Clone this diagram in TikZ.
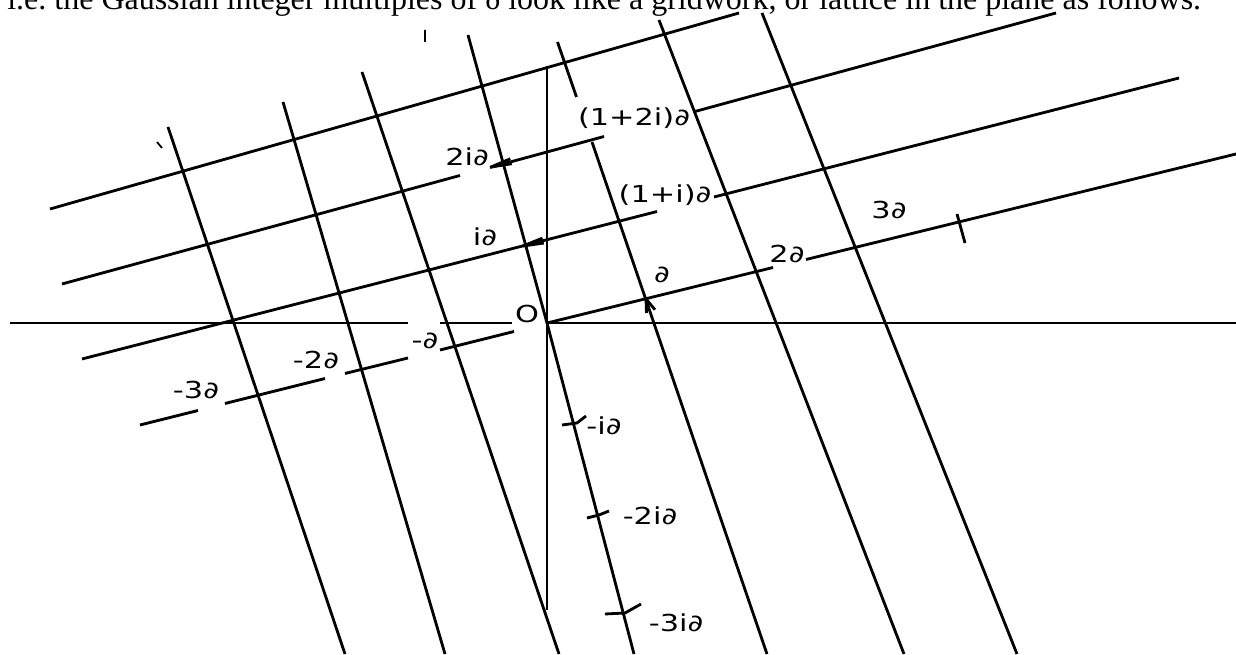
\documentclass[tikz,border=0pt]{standalone}
\usepackage{fontspec}
\setmainfont{Liberation Serif}
\newfontfamily\labfont[FakeStretch=1.3]{DejaVu Sans}
\usepackage{tikz}
\usetikzlibrary{calc}

\begin{document}
\begin{tikzpicture}[
  lattice/.style={line width=1.6pt},
  axis/.style={line width=1.3pt},
  lab/.style={font=\labfont\fontsize{13.3}{15}\selectfont, inner sep=0pt}
]
\useasboundingbox (-10.94,-6.62) rectangle (13.78,6.46);
\coordinate (O) at (0,0);
% text line above the figure, cut off by the page
\node[anchor=base west, inner sep=0pt, font=\fontsize{18.2}{20}\selectfont] (caption)
  at (-10.80,6.26) {i.e.\ the Gaussian integer multiples of δ look like a gridwork, or lattice in the plane as follows.};
% axes
\draw[axis]
(-10.74,0) -- (-2.78,0)
(-2.14,0) -- (-0.70,0)
(O) -- (13.78,0)
(0,5.14) -- (0,-5.74);
% lines in the direction of delta
\draw[lattice]
(-9.94,2.28) -- (3.84,6.20)
(-9.70,0.78) -- (-1.74,2.95)
(-1.14,3.11) -- (1.14,3.73)
(2.96,4.23) -- (10.18,6.20)
(-9.30,-0.72) -- (2.20,2.23)
(3.34,2.52) -- (12.64,4.90)
(-8.14,-2.04) -- (-6.98,-1.75)
(-6.44,-1.61) -- (-4.44,-1.11)
(-4.04,-1.01) -- (-2.78,-0.70)
(-2.14,-0.54) -- (-0.66,-0.17)
(O) -- (4.52,1.11)
(5.18,1.27) -- (13.78,3.38);
% lines in the direction of i delta
\draw[lattice]
(-7.58,3.92) -- (-4.04,-6.62)
(-5.28,4.42) -- (-2.04,-6.62)
(-3.70,5.02) -- (0.24,-6.62)
(-1.58,5.76) -- (O) -- (1.74,-6.62)
(0.21,5.62) -- (0.59,4.52)
(0.90,3.62) -- (4.40,-6.62)
(2.24,6.06) -- (7.14,-6.62)
(4.30,6.20) -- (9.40,-6.62);
% ticks
\draw[lattice]
(0.30,-2.04) -- (0.60,-2.00) -- (0.78,-1.86)
(0.80,-3.90) -- (1.04,-3.84) -- (1.24,-3.76)
(1.16,-5.82) -- (1.56,-5.80) -- (1.88,-5.62)
(8.20,2.18) -- (8.36,1.60);
% makes the arrow heads
\draw[lattice]
(1.98,0.48) --++ (-50:.28)
(1.98,0.48) --++ (-88:.28)
(-0.48,1.54) --++ (22:.42)
(-0.48,1.54) --++ (8:.42)
(-1.12,3.12) --++ (23:.42)
(-1.12,3.12) --++ (9:.42);
% stray marks of the scan
\draw[line width=1pt]
(-7.80,3.62) -- (-7.70,3.50)
(-2.44,5.86) -- (-2.44,5.62);
% labels
\node[lab] (lO) at (-0.40,0.18) {O};
\node[lab] (l1) at (2.30,0.96) {∂};
\node[lab] (l2) at (4.80,1.38) {2∂};
\node[lab] (l3) at (6.84,2.26) {3∂};
\node[lab] (l1i) at (2.36,2.56) {(1+i)∂};
\node[lab] (l12i) at (1.74,4.10) {(1+2i)∂};
\node[lab] (l2i) at (-1.60,3.32) {2i∂};
\node[lab] (li) at (-1.24,1.72) {i∂};
\node[lab] (lm1) at (-2.44,-0.36) {-∂};
\node[lab] (lm2) at (-4.62,-0.74) {-2∂};
\node[lab] (lm3) at (-7.02,-1.34) {-3∂};
\node[lab] (lmi) at (1.14,-2.06) {-i∂};
\node[lab] (lm2i) at (2.06,-3.86) {-2i∂};
\node[lab] (lm3i) at (2.58,-6.00) {-3i∂};
\end{tikzpicture}
\end{document}
